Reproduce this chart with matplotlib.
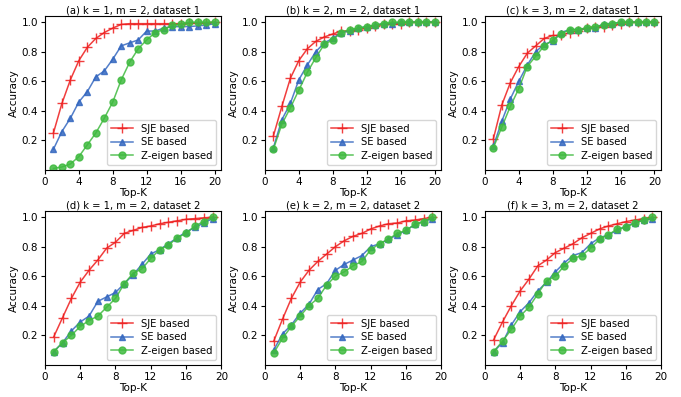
import matplotlib
matplotlib.use("Agg")
import matplotlib.pyplot as plt
import numpy as np

# ------------------------------------------------------------------
#  data
# ------------------------------------------------------------------
topk_1 = np.arange(1, 21)
topk_2 = np.arange(1, 20)

titles = ["(a) k = 1, m = 2, dataset 1", "(b) k = 2, m = 2, dataset 1",
          "(c) k = 3, m = 2, dataset 1", "(d) k = 1, m = 2, dataset 2",
          "(e) k = 2, m = 2, dataset 2", "(f) k = 3, m = 2, dataset 2"]

sje_a = [0.25, 0.45, 0.61, 0.74, 0.83, 0.89, 0.93, 0.96, 0.985, 0.99, 0.99, 0.99, 0.99, 0.99, 0.99, 0.99, 0.995, 0.995, 0.995, 1.0]
se_a  = [0.14, 0.26, 0.35, 0.46, 0.53, 0.63, 0.67, 0.75, 0.84, 0.86, 0.88, 0.94, 0.94, 0.96, 0.97, 0.97, 0.97, 0.975, 0.98, 0.99]
ze_a  = [0.01, 0.02, 0.04, 0.09, 0.17, 0.25, 0.35, 0.46, 0.61, 0.73, 0.82, 0.88, 0.93, 0.95, 0.98, 0.985, 1.0, 1.0, 1.0, 1.0]

sje_b = [0.23, 0.43, 0.62, 0.74, 0.82, 0.87, 0.90, 0.92, 0.94, 0.94, 0.95, 0.96, 0.975, 0.985, 0.99, 0.99, 1.0, 1.0, 1.0, 1.0]
se_b  = [0.15, 0.34, 0.45, 0.61, 0.71, 0.80, 0.86, 0.89, 0.93, 0.94, 0.96, 0.97, 0.98, 0.99, 0.99, 1.0, 1.0, 1.0, 1.0, 1.0]
ze_b  = [0.14, 0.31, 0.42, 0.54, 0.66, 0.76, 0.85, 0.88, 0.93, 0.95, 0.96, 0.97, 0.98, 0.99, 1.0, 1.0, 1.0, 1.0, 1.0, 1.0]

sje_c = [0.21, 0.44, 0.59, 0.70, 0.79, 0.84, 0.89, 0.91, 0.91, 0.93, 0.94, 0.96, 0.97, 0.97, 0.98, 0.99, 1.0, 1.0, 1.0, 1.0]
se_c  = [0.16, 0.33, 0.48, 0.60, 0.71, 0.80, 0.85, 0.87, 0.93, 0.95, 0.95, 0.96, 0.96, 0.99, 0.99, 1.0, 1.0, 1.0, 1.0, 1.0]
ze_c  = [0.15, 0.29, 0.43, 0.55, 0.70, 0.77, 0.84, 0.88, 0.92, 0.95, 0.95, 0.96, 0.97, 0.98, 0.99, 1.0, 1.0, 1.0, 1.0, 1.0]

sje_d = [0.19, 0.32, 0.45, 0.56, 0.64, 0.71, 0.79, 0.83, 0.89, 0.91, 0.93, 0.94, 0.955, 0.965, 0.975, 0.985, 0.99, 0.995, 1.0]
se_d  = [0.09, 0.15, 0.23, 0.29, 0.33, 0.43, 0.46, 0.49, 0.55, 0.61, 0.68, 0.75, 0.78, 0.82, 0.86, 0.90, 0.93, 0.96, 0.99]
ze_d  = [0.09, 0.15, 0.20, 0.26, 0.30, 0.33, 0.39, 0.45, 0.55, 0.62, 0.65, 0.72, 0.78, 0.81, 0.86, 0.89, 0.94, 0.97, 1.0]

sje_e = [0.16, 0.31, 0.45, 0.56, 0.64, 0.70, 0.75, 0.80, 0.84, 0.87, 0.89, 0.92, 0.94, 0.955, 0.96, 0.975, 0.98, 0.99, 1.0]
se_e  = [0.10, 0.21, 0.27, 0.35, 0.41, 0.51, 0.55, 0.64, 0.68, 0.71, 0.74, 0.80, 0.82, 0.85, 0.88, 0.91, 0.95, 0.97, 0.99]
ze_e  = [0.08, 0.18, 0.26, 0.33, 0.40, 0.45, 0.54, 0.60, 0.63, 0.67, 0.70, 0.78, 0.82, 0.85, 0.89, 0.91, 0.95, 0.97, 1.0]

sje_f = [0.17, 0.29, 0.40, 0.50, 0.58, 0.67, 0.71, 0.76, 0.79, 0.82, 0.86, 0.89, 0.92, 0.94, 0.955, 0.97, 0.98, 0.99, 1.0]
se_f  = [0.09, 0.15, 0.27, 0.36, 0.42, 0.50, 0.56, 0.63, 0.69, 0.74, 0.76, 0.82, 0.86, 0.88, 0.91, 0.94, 0.96, 0.98, 0.99]
ze_f  = [0.09, 0.16, 0.24, 0.33, 0.39, 0.48, 0.57, 0.60, 0.67, 0.72, 0.74, 0.79, 0.85, 0.88, 0.92, 0.93, 0.96, 0.98, 1.0]

panels = [(topk_1, sje_a, se_a, ze_a), (topk_1, sje_b, se_b, ze_b), (topk_1, sje_c, se_c, ze_c),
          (topk_2, sje_d, se_d, ze_d), (topk_2, sje_e, se_e, ze_e), (topk_2, sje_f, se_f, ze_f)]

series_names = ["SJE based", "SE based", "Z-eigen based"]

# ------------------------------------------------------------------
#  style
# ------------------------------------------------------------------
fs = 7.2
plt.rcParams.update({'font.size': fs, 'axes.labelsize': fs + 0.3, 'xtick.labelsize': fs + 0.3,
                     'ytick.labelsize': fs + 0.3, 'axes.titlesize': fs, 'legend.fontsize': fs})

colors  = ['#ee1c1c', '#3568c0', '#3fba3f']
markers = ['+', '^', 'o']
msizes  = [7, 5, 5]

fig = plt.figure(figsize=(6.81, 3.97), dpi=100)

lefts   = [0.066, 0.389, 0.712]
bottoms = [0.572, 0.081]
w, h    = 0.259, 0.387

for i, (x, sje, se, ze) in enumerate(panels):
    row, col = divmod(i, 3)
    ax = fig.add_axes([lefts[col], bottoms[row], w, h])
    for s_i, ys in enumerate([sje, se, ze]):
        ax.plot(x, ys, color=colors[s_i], marker=markers[s_i], markersize=msizes[s_i],
                linewidth=1.1, alpha=0.85, label=series_names[s_i])
    ax.set_title(titles[i], pad=2)
    ax.set_xlabel('Top-K', labelpad=1)
    ax.set_ylabel('Accuracy', labelpad=2)
    ax.set_xticks([0, 4, 8, 12, 16, 20])
    ax.set_yticks([0.2, 0.4, 0.6, 0.8, 1.0])
    if row == 0:
        ax.set_xlim(0, 20.8)
    else:
        ax.set_xlim(0, 20)
    ax.set_ylim(0, 1.04)
    ax.tick_params(length=3, pad=2)
    ax.legend(loc='lower right', handlelength=2.2, borderpad=0.4, labelspacing=0.35)

fig.savefig('out.png', dpi=100)
